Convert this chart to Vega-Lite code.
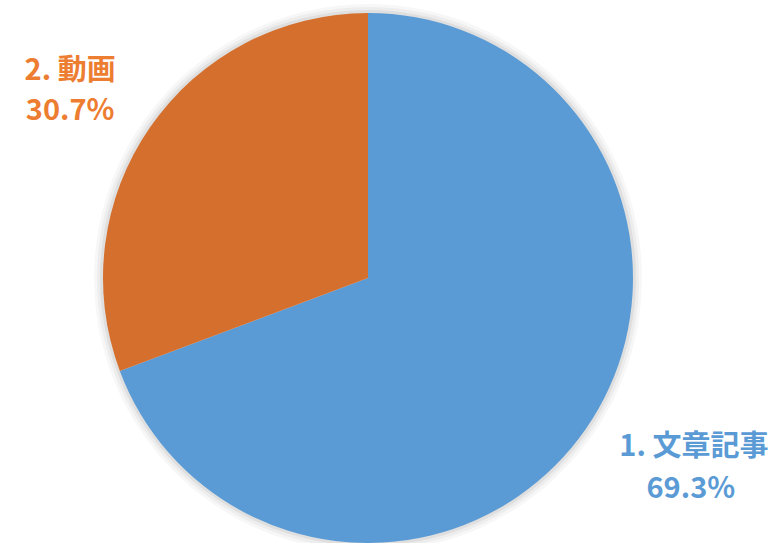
{
  "$schema": "https://vega.github.io/schema/vega-lite/v6.json",
  "autosize": {"type": "none"},
  "width": 736,
  "height": 530,
  "padding": {"left": 0, "top": 13, "right": 46, "bottom": 0},
  "background": "white",
  "view": {"stroke": null},
  "data": {
    "values": [
      {"category": "1. 文章記事", "value": 0.693},
      {"category": "2. 動画", "value": 0.307}
    ]
  },
  "encoding": {
    "theta": {"field": "value", "type": "quantitative", "stack": true},
    "order": {"field": "category", "type": "nominal", "sort": "ascending"}
  },
  "layer": [
    {"mark": {"type": "arc", "radius": 274, "fill": "#000000", "opacity": 0.03}, "encoding": {}},
    {"mark": {"type": "arc", "radius": 271, "fill": "#000000", "opacity": 0.04}, "encoding": {}},
    {"mark": {"type": "arc", "radius": 268, "fill": "#000000", "opacity": 0.06}, "encoding": {}},
    {
      "mark": {"type": "arc", "radius": 265},
      "encoding": {
        "color": {
          "field": "category",
          "type": "nominal",
          "scale": {"domain": ["1. 文章記事", "2. 動画"], "range": ["#5B9BD5", "#D46F2D"]},
          "legend": null
        }
      }
    },
    {
      "mark": {"type": "text", "radius": 360, "dx": 30, "dy": -36, "fontSize": 29, "fontWeight": "bold", "font": "Noto Sans CJK JP", "fill": "#5B9BD5", "align": "center", "baseline": "middle"},
      "encoding": {
        "detail": {"field": "category", "type": "nominal"},
        "text": {"condition": {"test": "datum.category === '1. 文章記事'", "field": "category"}, "value": ""}
      }
    },
    {
      "mark": {"type": "text", "radius": 360, "dx": 27, "dy": 6, "fontSize": 29, "fontWeight": "bold", "font": "Noto Sans CJK JP", "fill": "#5B9BD5", "align": "center", "baseline": "middle"},
      "encoding": {
        "detail": {"field": "category", "type": "nominal"},
        "text": {"condition": {"test": "datum.category === '1. 文章記事'", "field": "value", "type": "quantitative", "format": ".1%"}, "value": ""}
      }
    },
    {
      "mark": {"type": "text", "radius": 360, "dx": -2, "dy": -2, "fontSize": 29, "fontWeight": "bold", "font": "Noto Sans CJK JP", "fill": "#ED7D31", "align": "center", "baseline": "middle"},
      "encoding": {
        "detail": {"field": "category", "type": "nominal"},
        "text": {"condition": {"test": "datum.category === '2. 動画'", "field": "category"}, "value": ""}
      }
    },
    {
      "mark": {"type": "text", "radius": 360, "dx": -2, "dy": 38, "fontSize": 29, "fontWeight": "bold", "font": "Noto Sans CJK JP", "fill": "#ED7D31", "align": "center", "baseline": "middle"},
      "encoding": {
        "detail": {"field": "category", "type": "nominal"},
        "text": {"condition": {"test": "datum.category === '2. 動画'", "field": "value", "type": "quantitative", "format": ".1%"}, "value": ""}
      }
    }
  ]
}
